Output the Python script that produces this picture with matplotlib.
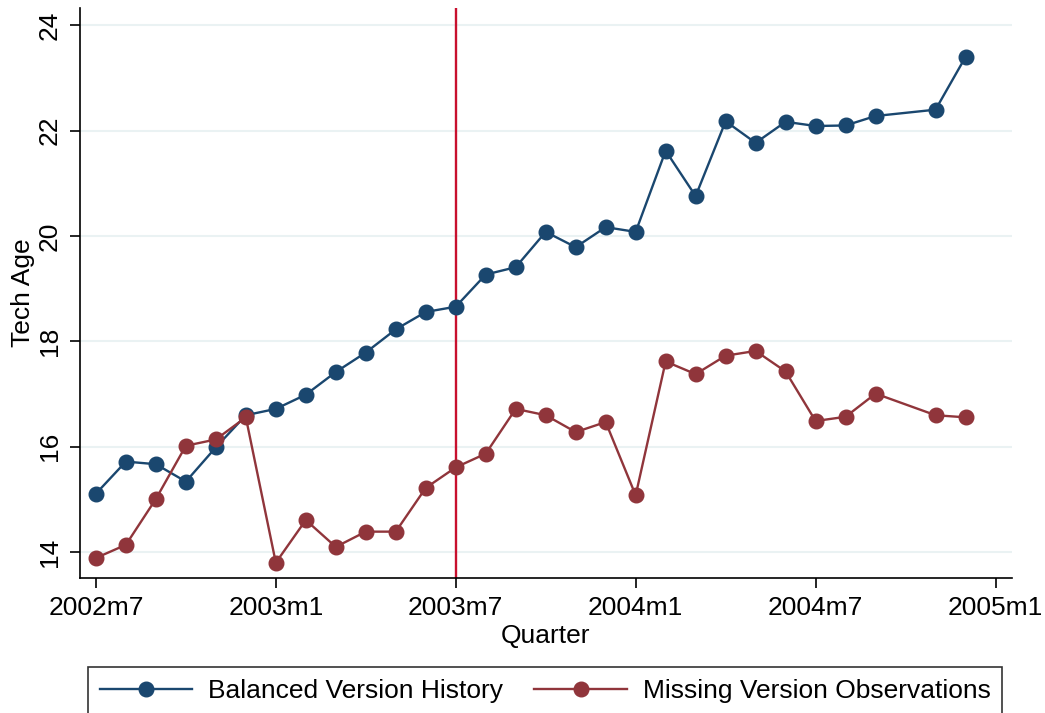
import matplotlib
matplotlib.use("Agg")
import matplotlib.pyplot as plt

plt.rcParams["font.family"] = ["Liberation Sans", "DejaVu Sans"]

# periodos mensuales (falta 2004m10)
periodos = ["2002m7", "2002m8", "2002m9", "2002m10", "2002m11", "2002m12",
            "2003m1", "2003m2", "2003m3", "2003m4", "2003m5", "2003m6",
            "2003m7", "2003m8", "2003m9", "2003m10", "2003m11", "2003m12",
            "2004m1", "2004m2", "2004m3", "2004m4", "2004m5", "2004m6",
            "2004m7", "2004m8", "2004m9", "2004m11", "2004m12"]

balanced = [15.11, 15.72, 15.67, 15.34, 15.99, 16.60,
            16.72, 16.99, 17.42, 17.79, 18.23, 18.56,
            18.66, 19.27, 19.41, 20.08, 19.79, 20.17,
            20.08, 21.62, 20.76, 22.18, 21.77, 22.17,
            22.09, 22.10, 22.28, 22.40, 23.40]

missing = [13.89, 14.14, 15.01, 16.02, 16.14, 16.56,
           13.80, 14.61, 14.10, 14.39, 14.39, 15.22,
           15.61, 15.87, 16.72, 16.60, 16.28, 16.47,
           15.08, 17.62, 17.38, 17.73, 17.82, 17.43,
           16.49, 16.57, 17.01, 16.60, 16.56]

xticklabels = ["2002m7", "2003m1", "2003m7", "2004m1", "2004m7", "2005m1"]
yticks = [14, 16, 18, 20, 22, 24]
linea_vertical = "2003m7"


def a_mes(p):
    anio, mes = p.split("m")
    return (int(anio) - 2002) * 12 + int(mes) - 7


x = [a_mes(p) for p in periodos]
xticks = [a_mes(p) for p in xticklabels]

azul = "#1a476f"
rojo = "#90353b"

fig = plt.figure(figsize=(10.45, 7.13), dpi=100)
ax = fig.add_axes([80 / 1045, 1 - 578 / 713, 932 / 1045, 570 / 713])

ax.plot(x, balanced, color=azul, lw=1.7, marker="o", ms=10.5,
        label="Balanced Version History", zorder=3)
ax.plot(x, missing, color=rojo, lw=1.7, marker="o", ms=10.5,
        label="Missing Version Observations", zorder=3)
ax.axvline(a_mes(linea_vertical), color="#c8102e", lw=1.7, zorder=2)

ax.set_xlim(-0.53, 30.55)
ax.set_ylim(13.51, 24.33)
ax.set_xticks(xticks)
ax.set_xticklabels(xticklabels)
ax.set_yticks(yticks)
ax.set_yticklabels([str(v) for v in yticks], rotation=90, va="center")
ax.yaxis.grid(True, color="#eaf2f3", lw=1.5)
ax.set_axisbelow(True)

for s in ["top", "right"]:
    ax.spines[s].set_visible(False)
for s in ["left", "bottom"]:
    ax.spines[s].set_linewidth(1.2)

ax.tick_params(axis="both", labelsize=19, length=7, width=1.2, pad=6)
ax.set_xlabel("Quarter", fontsize=19, labelpad=3)
ax.set_ylabel("Tech Age", fontsize=19, labelpad=2)

leg = fig.legend(loc="upper center", bbox_to_anchor=(545 / 1045, 1 - 667 / 713),
                 ncol=2, fontsize=19, frameon=True, fancybox=False,
                 edgecolor="black", handlelength=3.5, handletextpad=0.6,
                 columnspacing=1.2, borderpad=0.45, borderaxespad=0)
leg.get_frame().set_linewidth(1.2)

fig.savefig("out.png", dpi=100)
